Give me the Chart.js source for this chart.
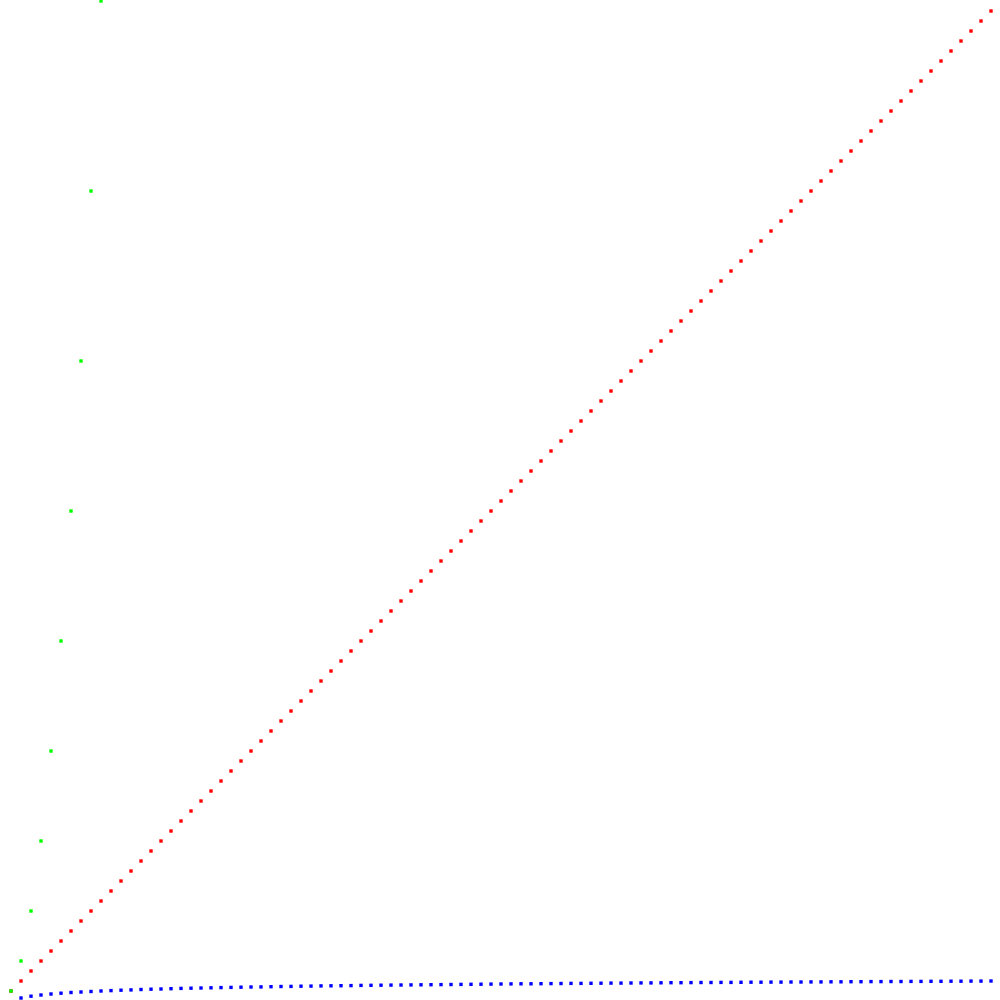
<!DOCTYPE html>
<html>
<head>
<meta charset="utf-8">
<script src="https://cdn.jsdelivr.net/npm/chart.js@4"></script>
<style>
  html, body { margin: 0; padding: 0; background: #fff; }
  canvas { display: block; }
</style>
</head>
<body>
<canvas id="chart" width="1000" height="1000"></canvas>
<script>
// x positions shared by red and blue series
const xValues = [1, 2, 3, 4, 5, 6, 7, 8, 9, 10, 11, 12, 13, 14, 15, 16, 17, 18, 19, 20,
    21, 22, 23, 24, 25, 26, 27, 28, 29, 30, 31, 32, 33, 34, 35, 36, 37, 38, 39, 40,
    41, 42, 43, 44, 45, 46, 47, 48, 49, 50, 51, 52, 53, 54, 55, 56, 57, 58, 59, 60,
    61, 62, 63, 64, 65, 66, 67, 68, 69, 70, 71, 72, 73, 74, 75, 76, 77, 78, 79, 80,
    81, 82, 83, 84, 85, 86, 87, 88, 89, 90, 91, 92, 93, 94, 95, 96, 97, 98, 99];

// red diagonal
const redValues = [1, 2, 3, 4, 5, 6, 7, 8, 9, 10, 11, 12, 13, 14, 15, 16, 17, 18, 19, 20,
    21, 22, 23, 24, 25, 26, 27, 28, 29, 30, 31, 32, 33, 34, 35, 36, 37, 38, 39, 40,
    41, 42, 43, 44, 45, 46, 47, 48, 49, 50, 51, 52, 53, 54, 55, 56, 57, 58, 59, 60,
    61, 62, 63, 64, 65, 66, 67, 68, 69, 70, 71, 72, 73, 74, 75, 76, 77, 78, 79, 80,
    81, 82, 83, 84, 85, 86, 87, 88, 89, 90, 91, 92, 93, 94, 95, 96, 97, 98, 99];

// blue, flat curve along the bottom (no mark visible at x = 1)
const blueValues = [null, 0.3, 0.48, 0.6, 0.7, 0.78, 0.85, 0.9, 0.95, 1, 1.04, 1.08, 1.11, 1.15, 1.18, 1.2, 1.23, 1.26, 1.28, 1.3,
    1.32, 1.34, 1.36, 1.38, 1.4, 1.41, 1.43, 1.45, 1.46, 1.48, 1.49, 1.51, 1.52, 1.53, 1.54, 1.56, 1.57, 1.58, 1.59, 1.6,
    1.61, 1.62, 1.63, 1.64, 1.65, 1.66, 1.67, 1.68, 1.69, 1.7, 1.71, 1.72, 1.72, 1.73, 1.74, 1.75, 1.76, 1.76, 1.77, 1.78,
    1.79, 1.79, 1.8, 1.81, 1.81, 1.82, 1.83, 1.83, 1.84, 1.85, 1.85, 1.86, 1.86, 1.87, 1.88, 1.88, 1.89, 1.89, 1.9, 1.9,
    1.91, 1.91, 1.92, 1.92, 1.93, 1.93, 1.94, 1.94, 1.95, 1.95, 1.96, 1.96, 1.97, 1.97, 1.98, 1.98, 1.99, 1.99, 2];

// green, steep curve on the left
const greenX = [1, 2, 3, 4, 5, 6, 7, 8, 9, 10];
const greenValues = [1, 4, 9, 16, 25, 36, 49, 64, 81, 100];

function points(xs, ys) {
    return xs.map((x, i) => ({ x: x, y: ys[i] }));
}

function series(data, color) {
    return {
        data: data,
        pointStyle: "rect",
        pointRadius: 2.4,
        pointBorderWidth: 0,
        backgroundColor: color,
        borderColor: color,
        showLine: false,
        clip: false
    };
}

new Chart(document.getElementById("chart"), {
    type: "scatter",
    data: {
        datasets: [
            series(points(greenX, greenValues), "#00ff00"),
            series(points(xValues, redValues), "#ff0000"),
            series(points(xValues, blueValues), "#0000ff")
        ]
    },
    options: {
        responsive: false,
        animation: false,
        devicePixelRatio: 1,
        layout: { padding: 0, autoPadding: false },
        plugins: {
            legend: { display: false },
            tooltip: { enabled: false }
        },
        scales: {
            x: { type: "linear", min: -0.1, max: 99.9, display: false },
            y: { type: "linear", min: 0.1, max: 100.1, display: false }
        }
    }
});
</script>
</body>
</html>
